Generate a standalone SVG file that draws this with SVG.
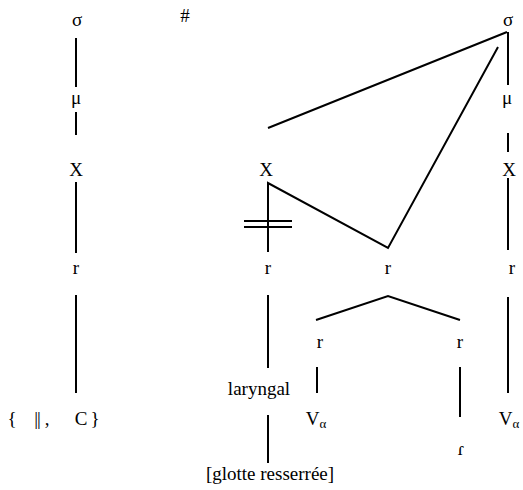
<svg xmlns="http://www.w3.org/2000/svg" width="523" height="490" viewBox="0 0 523 490">
<style>
text{font-family:'Liberation Serif','Times New Roman',serif;font-size:19px;fill:#000;text-anchor:middle}
.l{stroke:#000;stroke-width:2;fill:none}
.sub{font-size:13px}
</style>
<rect width="523" height="490" fill="#fff"/>
<g id="connectors">
<path class="l" d="M76,38V87M76,112V135M76,182V253M76,295V393"/>
<path class="l" d="M508,32V85M508,133V152M508,178V250M508,297V393"/>
<path class="l" d="M507,32L268,128M498,47L388,248L268,183V252"/>
<path class="l" d="M244,221H292M244,227H292"/>
<path class="l" d="M268,295V368M268,415V463"/>
<path class="l" d="M316,320L388,296L460,320M317,367V393M460,367V417"/>
</g>
<g font-family="Liberation Serif, serif" font-size="19">
<g id="n-sigma1"><text x="77" y="26">σ</text></g>
<g id="n-hash"><text x="185" y="22">#</text></g>
<g id="n-mu1"><text x="76" y="104">μ</text></g>
<g id="n-X1"><text x="76" y="176">X</text></g>
<g id="n-r1"><text x="76" y="274">r</text></g>
<g id="n-set"><text x="12" y="425">{</text><text x="37" y="425" letter-spacing="-1">||</text><text x="47" y="425">,</text><text x="81" y="425">C</text><text x="95" y="425">}</text></g>
<g id="n-sigma2"><text x="508" y="26">σ</text></g>
<g id="n-mu2"><text x="507" y="104">μ</text></g>
<g id="n-X3"><text x="509" y="176">X</text></g>
<g id="n-r4"><text x="512" y="274">r</text></g>
<g id="n-X2"><text x="266" y="176">X</text></g>
<g id="n-r2"><text x="268" y="274">r</text></g>
<g id="n-r3"><text x="388" y="274">r</text></g>
<g id="n-r3a"><text x="320" y="348">r</text></g>
<g id="n-r3b"><text x="460" y="348">r</text></g>
<g id="n-lar"><text x="259" y="395">laryngal</text></g>
<g id="n-V1"><text x="316" y="425">V<tspan class="sub" dy="3">α</tspan></text></g>
<g id="n-V2"><text x="509" y="425">V<tspan class="sub" dy="3">α</tspan></text></g>
<g id="n-tap"><text x="461" y="455">ɾ</text></g>
<g id="n-gl"><text x="270" y="480">[glotte resserrée]</text></g>
</g>
</svg>
